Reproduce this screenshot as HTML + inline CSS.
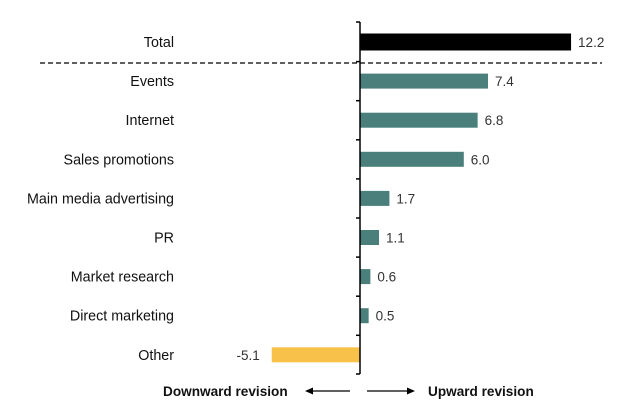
<!DOCTYPE html>
<html><head><meta charset="utf-8"><style>
html,body{margin:0;padding:0;background:#fff;}
svg{display:block;font-family:"Liberation Sans",Arial,sans-serif;}
</style></head><body>
<svg id="chart" width="620" height="412" viewBox="0 0 620 412">
<g id="bars"></g>
<g id="labels"></g>
<line x1="40" y1="63" x2="602" y2="63" stroke="#000" stroke-width="1.3" stroke-dasharray="5,3"/>
<g id="axis"></g>
<text x="163" y="396" font-size="13.6" font-weight="bold" fill="#111">Downward revision</text>
<g><line x1="312" y1="391" x2="350" y2="391" stroke="#000" stroke-width="1.3"/><polygon points="305,391 313,387.5 313,394.5" fill="#000"/></g>
<g><line x1="367" y1="391" x2="407" y2="391" stroke="#000" stroke-width="1.3"/><polygon points="415,391 407,387.5 407,394.5" fill="#000"/></g>
<text x="428" y="396" font-size="13.6" font-weight="bold" fill="#111">Upward revision</text>
</svg>
<script>
const categories=["Total","Events","Internet","Sales promotions","Main media advertising","PR","Market research","Direct marketing","Other"];
const values=[12.2,7.4,6.8,6.0,1.7,1.1,0.6,0.5,-5.1];
const valueLabels=["12.2","7.4","6.8","6.0","1.7","1.1","0.6","0.5","-5.1"];
const NS="http://www.w3.org/2000/svg";
const x0=360, scale=17.3;
function xs(v){return x0+v*scale;}
function yc(i){return 42+i*39.1;}
const gb=document.getElementById('bars'),gl=document.getElementById('labels'),ga=document.getElementById('axis');
function mk(tag,at,parent){const e=document.createElementNS(NS,tag);for(const k in at)e.setAttribute(k,at[k]);parent.appendChild(e);return e;}
categories.forEach((c,i)=>{
  const v=values[i],y=yc(i);
  const col=i===0?"#000":(v<0?"#F7C14A":"#4A7F7C");
  const r=mk('rect',{x:Math.min(xs(v),x0),y:y-(i===0?8.5:7.5),width:Math.abs(xs(v)-x0),height:i===0?17:15,fill:col},gb);
  
  
  const vt=mk('text',{x:v<0?xs(v)-12:xs(v)+7,y:y+5,'font-size':13.5,fill:'#333','text-anchor':v<0?'end':'start'},gb);
  vt.textContent=valueLabels[i];
  
  
  const t=mk('text',{x:174,y:y+5,'font-size':14.3,fill:'#111','text-anchor':'end'},gl);
  t.textContent=c;
  
  
});
const ax=mk('line',{x1:x0,y1:22,x2:x0,y2:374,stroke:'#000','stroke-width':1.5},ga);


for(let i=0;i<=categories.length;i++){
  const y=i===0?22:(i===categories.length?374:yc(i)-19.5);
  const tk=mk('line',{x1:x0-4,y1:y,x2:x0,y2:y,stroke:'#000','stroke-width':1.5},ga);
  
  
}
</script>
</body></html>
